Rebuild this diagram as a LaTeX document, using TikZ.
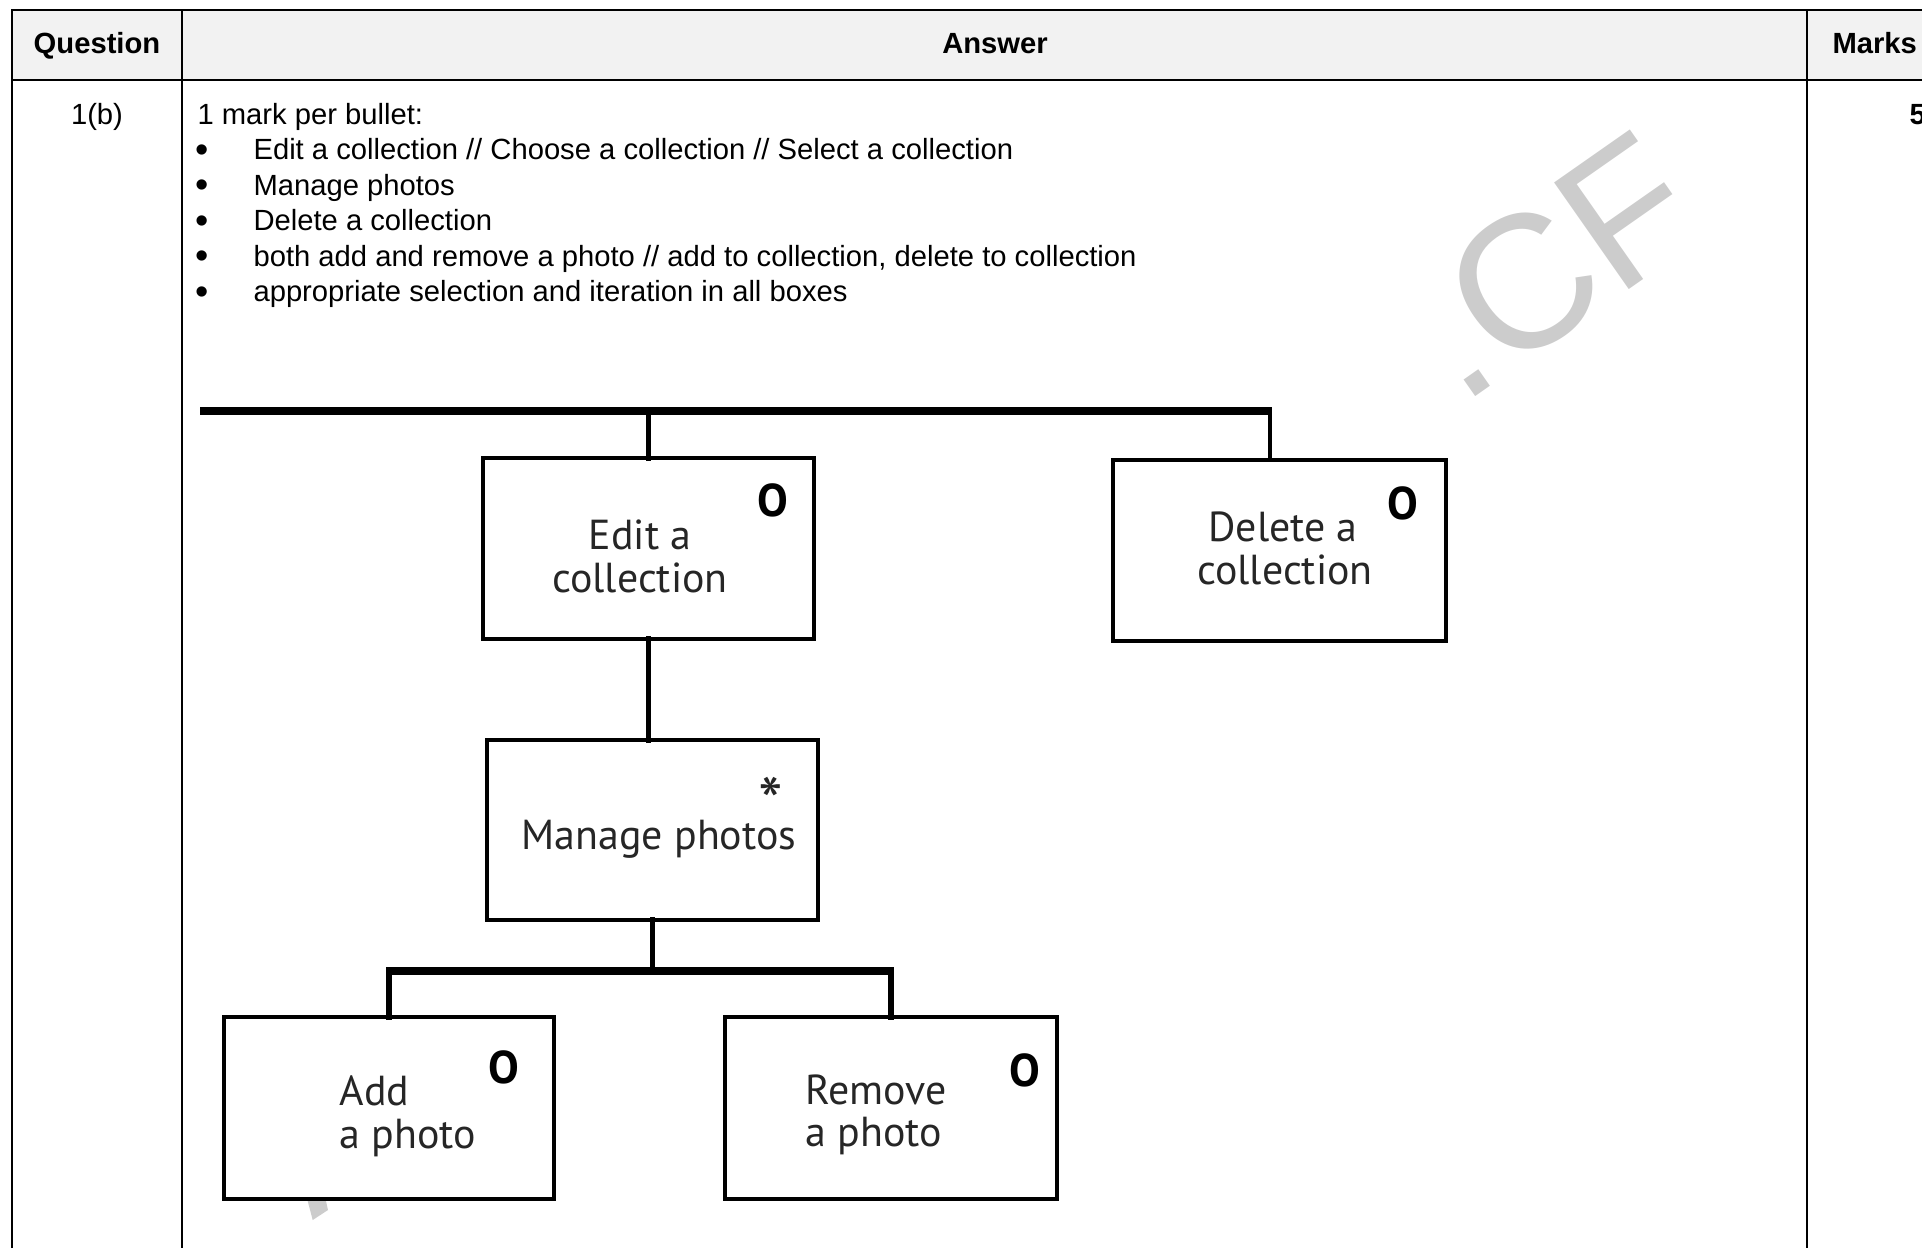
\documentclass[tikz,border=0pt]{standalone}
\usepackage{fontspec}
\setmainfont{Liberation Sans}
\newfontfamily\diagfont{PT Sans}
\definecolor{hdr}{HTML}{F2F2F2}
\definecolor{wm}{HTML}{CCCCCC}
\definecolor{dtext}{HTML}{262626}
\newcommand{\uu}{0.13mm}
\begin{document}
\begin{tikzpicture}[x=0.13mm,y=-0.13mm,
  tline/.style={line width=0.9pt},
  box/.style={draw, line width=1.25pt, fill=white, inner sep=0pt, outer sep=0pt},
  vline/.style={line width=1.9pt, line cap=rect},
  thinv/.style={line width=1.2pt},
  hbar/.style={line width=2.9pt},
  btxt/.style={font=\diagfont\fontsize{15.5}{18}\selectfont, text=dtext, inner sep=0pt},
  selmark/.style={font=\diagfont\bfseries\fontsize{17}{19}\selectfont, text=black, inner sep=0pt},
  ttxt/.style={font=\fontsize{10.8}{13}\selectfont, inner sep=0pt, anchor=base west},
  bul/.style={font=\fontsize{14}{14}\selectfont, inner sep=0pt, anchor=base},
  thdr/.style={font=\bfseries\fontsize{10.8}{13}\selectfont, inner sep=0pt, anchor=base},
]
\useasboundingbox (0,0) rectangle (1922,1248);
\clip (0,0) rectangle (1922,1248);

% header background
\fill[hdr] (12,10) rectangle (1922,80);

% watermark
\node[rotate=35, text=wm, font=\fontsize{70}{70}\selectfont, inner sep=0pt] (wmark) at (1549,266) {.CF};
\fill[wm] (307.7,1201) -- (326,1201) -- (328,1210) -- (312.7,1220) -- cycle;

% table lines
\draw[tline] (12,1248) -- (12,10) -- (1922,10);
\draw[tline] (12,80) -- (1922,80);
\draw[tline] (182,10) -- (182,1248);
\draw[tline] (1807,10) -- (1807,1248);

% header texts
\node[thdr] (hq) at (97,53) {Question};
\node[thdr] (ha) at (995,53) {Answer};
\node[thdr, anchor=base west] (hm) at (1832,53) {Marks};

% row texts
\node[ttxt, anchor=base] (q1) at (97,124) {1(b)};
\node[thdr, anchor=base west] (mk) at (1909,124) {5};
\node[ttxt] (intro) at (197,124) {1 mark per bullet:};
\node[bul] (b1) at (202,162) {•};
\node[ttxt] (l1) at (253,159.5) {Edit a collection // Choose a collection // Select a collection};
\node[bul] (b2) at (202,197.5) {•};
\node[ttxt] (l2) at (253,195) {Manage photos};
\node[bul] (b3) at (202,233) {•};
\node[ttxt] (l3) at (253,230.5) {Delete a collection};
\node[bul] (b4) at (202,268.5) {•};
\node[ttxt] (l4) at (253,266) {both add and remove a photo // add to collection, delete to collection};
\node[bul] (b5) at (202,304) {•};
\node[ttxt] (l5) at (253,301.5) {appropriate selection and iteration in all boxes};

% boxes
\node[box, minimum width={331*\uu}, minimum height={181*\uu}] (edit) at (648.5,548.5) {};
\node[box, minimum width={333*\uu}, minimum height={181*\uu}] (del) at (1279.5,550.5) {};
\node[box, minimum width={331*\uu}, minimum height={180*\uu}] (man) at (652.5,830) {};
\node[box, minimum width={330*\uu}, minimum height={182*\uu}] (add) at (389,1108) {};
\node[box, minimum width={332*\uu}, minimum height={182*\uu}] (rem) at (891,1108) {};

% connectors
\coordinate (barL) at (200,411);
\coordinate (barR) at (1270,411);
\coordinate (j2) at (650,971);
\draw[hbar, shorten >=-0.6pt] (barL) -- (barR);
\draw[thinv] (barR) -- (barR |- del.north);
\draw[vline] (edit.north) -- (edit.north |- barL);
\draw[vline] (edit.south) -- (edit.south |- man.north);
\draw[vline] (man.south) -- (man.south |- j2);
\draw[hbar, shorten <=-0.95pt, shorten >=-0.95pt] (add.north |- j2) -- (rem.north |- j2);
\draw[vline] (add.north |- j2) -- (add.north);
\draw[vline] (rem.north |- j2) -- (rem.north);

% box texts
\node[btxt, anchor=base] (editT1) at (640,549) {Edit a};
\node[btxt, anchor=base] (editT2) at (640,592) {collection};
\node[selmark] (editO) at (773,500) {O};
\node[btxt, anchor=base] (delT1) at (1283,541) {Delete a};
\node[btxt, anchor=base] (delT2) at (1285,584) {collection};
\node[selmark] (delO) at (1403,503) {O};
\node[btxt, anchor=base] (manT) at (659,849) {Manage photos};
\node[font=\diagfont\fontsize{26}{28}\selectfont, text=dtext, inner sep=0pt] (manS) at (771,787) {\raisebox{-0.4em}[0.36em][0pt]{*}};
\node[btxt, anchor=base west] (addT1) at (339,1105) {Add};
\node[btxt, anchor=base west] (addT2) at (339,1148) {a photo};
\node[selmark] (addO) at (504,1067) {O};
\node[btxt, anchor=base west] (remT1) at (805,1104) {Remove};
\node[btxt, anchor=base west] (remT2) at (805,1146) {a photo};
\node[selmark] (remO) at (1025,1070) {O};
\end{tikzpicture}
\end{document}
